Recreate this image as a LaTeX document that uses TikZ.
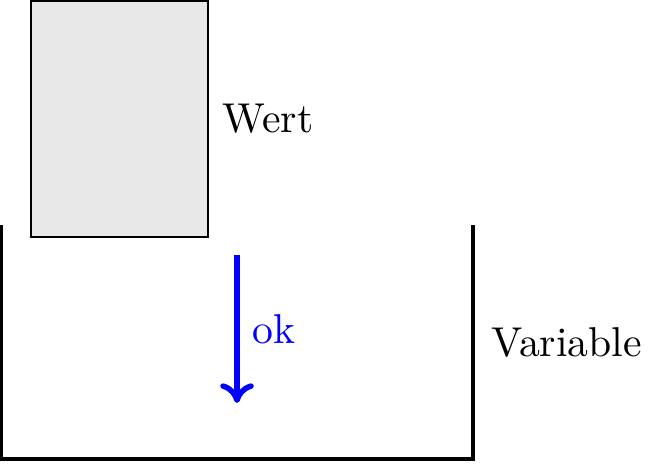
\documentclass[tikz,border=0pt]{standalone}
\usepackage{xcolor}
\usepackage{tikz}
\usetikzlibrary{positioning, arrows.meta, calc}

\begin{document}
\begin{tikzpicture}[every node/.style={font=\fontsize{10.6}{13}\selectfont}]
\pgfmathsetmacro{\vw}{4.196}
\pgfmathsetmacro{\vh}{2.075}

% Bounding box
\useasboundingbox (0,0) rectangle (5.830,4.134);

% Variable (open container)
\node[minimum width=\vw cm, minimum height=\vh cm, inner sep=0pt] (var) at (2.116,1.078) {};
\draw[line width=1.1pt] (var.north west) -- (var.south west) -- (var.south east) -- (var.north east);
\node[right=0.04cm of var] (varlab) {Variable};

% Wert (value box)
\node[draw, fill=gray!18, minimum width=1.58cm, minimum height=2.107cm, inner sep=0pt] (wert) at (1.067,3.071) {};
\node[right=0pt of wert] (wertlab) {Wert};

% Arrow into the variable
\coordinate (top) at (2.116,1.857);
\coordinate (bot) at (2.116,0.536);
\draw[-{To[length=5pt, width=8.5pt]}, line width=1.4pt, blue] (top) -- node[right, blue] (ok) {ok} (bot);

\end{tikzpicture}
\end{document}
